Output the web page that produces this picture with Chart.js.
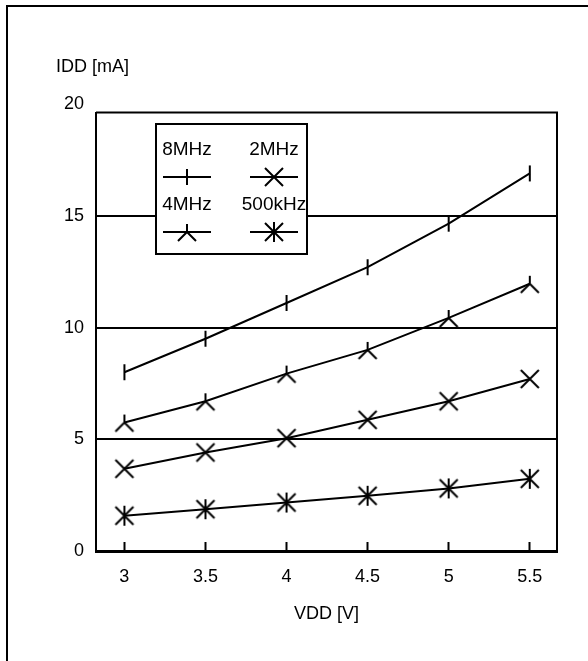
<!DOCTYPE html>
<html><head><meta charset="utf-8">
<script src="https://cdn.jsdelivr.net/npm/chart.js@4.4.1/dist/chart.umd.min.js"></script>
<style>
html,body{margin:0;padding:0;background:#fff;}
body{width:588px;height:661px;overflow:hidden;position:relative;}
#frame{position:absolute;left:6px;top:5px;width:700px;height:800px;border:2px solid #000;box-sizing:border-box;}
#c{position:absolute;left:0;top:0;}
</style></head>
<body><div id="frame"></div><canvas id="c" width="588" height="661"></canvas>
<script>
const vdd = [3, 3.5, 4, 4.5, 5, 5.5];
const idd8MHz = [8.0, 9.5, 11.1, 12.7, 14.65, 16.9];
const idd4MHz = [5.75, 6.7, 7.94, 9.0, 10.43, 11.96];
const idd2MHz = [3.68, 4.41, 5.05, 5.87, 6.7, 7.7];
const idd500kHz = [1.58, 1.87, 2.17, 2.47, 2.8, 3.23];
const seriesLabels = ['8MHz', '4MHz', '2MHz', '500kHz'];
const xTicks = [3, 3.5, 4, 4.5, 5, 5.5];
const xTickLabels = ['3', '3.5', '4', '4.5', '5', '5.5'];
const yTicks = [0, 5, 10, 15, 20];
const yTickLabels = ['0', '5', '10', '15', '20'];
const xTitle = 'VDD [V]';
const yTitle = 'IDD [mA]';

const FONT = '"Liberation Sans", Arial, sans-serif';

function mk(draw) {
  const c = document.createElement('canvas');
  c.width = 24; c.height = 24;
  const g = c.getContext('2d');
  g.strokeStyle = '#000'; g.lineWidth = 2; g.lineCap = 'butt';
  g.translate(12, 12);
  g.beginPath(); draw(g); g.stroke();
  return c;
}
const mVBar = mk(g => { g.moveTo(0, -8); g.lineTo(0, 8); });
const mInvY = mk(g => { g.moveTo(0, 0); g.lineTo(0, -8); g.moveTo(-9, 9); g.lineTo(0, 0); g.lineTo(9, 9); });
const mX = mk(g => { g.moveTo(-9, -9); g.lineTo(9, 9); g.moveTo(9, -9); g.lineTo(-9, 9); });
const mStar = mk(g => { g.moveTo(-9, -9); g.lineTo(9, 9); g.moveTo(9, -9); g.lineTo(-9, 9); g.moveTo(0, -10); g.lineTo(0, 10); });

const seriesValues = [idd8MHz, idd4MHz, idd2MHz, idd500kHz];
const markers = [mVBar, mInvY, mX, mStar];

const datasets = seriesValues.map((vals, i) => ({
  label: seriesLabels[i],
  data: vdd.map((x, j) => ({ x: x, y: vals[j] })),
  borderColor: '#000',
  borderWidth: 2,
  tension: 0,
  fill: false,
  pointStyle: markers[i],
  pointRadius: 9,
  pointHoverRadius: 9
}));

// legend slots: [textCenterX, textY, lineY]
const legendSlots = {
  '8MHz': [187, 150, 177],
  '2MHz': [274, 150, 177],
  '4MHz': [187, 205, 232],
  '500kHz': [274, 205, 232]
};

const framePlugin = {
  id: 'frame',
  beforeDatasetsDraw(chart) {
    const a = chart.chartArea, ctx = chart.ctx;
    ctx.save();
    ctx.strokeStyle = '#000'; ctx.lineWidth = 2;
    ctx.beginPath();
    ctx.moveTo(a.left, a.top); ctx.lineTo(a.right, a.top); ctx.lineTo(a.right, a.bottom);
    ctx.stroke();
    ctx.restore();
  }
};

const legendPlugin = {
  id: 'boxLegend',
  afterDraw(chart) {
    const ctx = chart.ctx;
    ctx.save();
    ctx.fillStyle = '#fff';
    ctx.fillRect(156, 124, 151, 130);
    ctx.strokeStyle = '#000'; ctx.lineWidth = 2;
    ctx.strokeRect(156, 124, 151, 130);
    ctx.font = '19px ' + FONT;
    ctx.textAlign = 'center'; ctx.textBaseline = 'middle';
    ctx.fillStyle = '#000';
    chart.data.datasets.forEach(ds => {
      const s = legendSlots[ds.label];
      if (!s) return;
      ctx.fillText(ds.label, s[0], s[1]);
      ctx.beginPath();
      ctx.moveTo(s[0] - 24, s[2]); ctx.lineTo(s[0] + 24, s[2]);
      ctx.lineWidth = 2; ctx.stroke();
      const im = ds.pointStyle;
      ctx.drawImage(im, s[0] - im.width / 2, s[2] - im.height / 2);
    });
    ctx.restore();
  }
};

new Chart(document.getElementById('c'), {
  type: 'line',
  data: { datasets: datasets },
  plugins: [framePlugin, legendPlugin],
  options: {
    responsive: false,
    animation: false,
    devicePixelRatio: 1,
    layout: { padding: { left: 56, right: 31, top: 0, bottom: 0 } },
    plugins: {
      legend: { display: false },
      tooltip: { enabled: false },
      title: {
        display: true, text: yTitle, align: 'start', color: '#000',
        font: { family: FONT, size: 18, weight: 'normal' },
        padding: { top: 56, bottom: 35 }
      }
    },
    scales: {
      x: {
        type: 'linear', min: 2.825, max: 5.668,
        afterBuildTicks: s => { s.ticks = xTicks.map(v => ({ value: v })); },
        afterFit: s => { s.height = 110; },
        ticks: {
          color: '#000', font: { family: FONT, size: 18 }, padding: 24,
          maxRotation: 0, autoSkip: false,
          callback: (v, i) => xTickLabels[i]
        },
        grid: { drawOnChartArea: false, drawTicks: true, tickLength: -9, tickColor: '#000', tickWidth: 2, color: '#000' },
        border: { display: true, color: '#000', width: 3 },
        title: { display: true, text: xTitle, color: '#000', font: { family: FONT, size: 18 }, padding: { top: 0, bottom: 36 } }
      },
      y: {
        type: 'linear', min: 0, max: 19.62,
        afterBuildTicks: s => { s.ticks = yTicks.map(v => ({ value: v })); },
        afterFit: s => { s.width = 40; },
        ticks: {
          color: '#000', font: { family: FONT, size: 18 }, padding: 12,
          callback: (v, i) => yTickLabels[i]
        },
        grid: {
          drawTicks: false, lineWidth: 2,
          color: c => (c.tick && c.tick.value > 0 && c.tick.value < 20) ? '#000' : 'rgba(0,0,0,0)'
        },
        border: { display: true, color: '#000', width: 2 }
      }
    }
  }
});
</script>
</body></html>
